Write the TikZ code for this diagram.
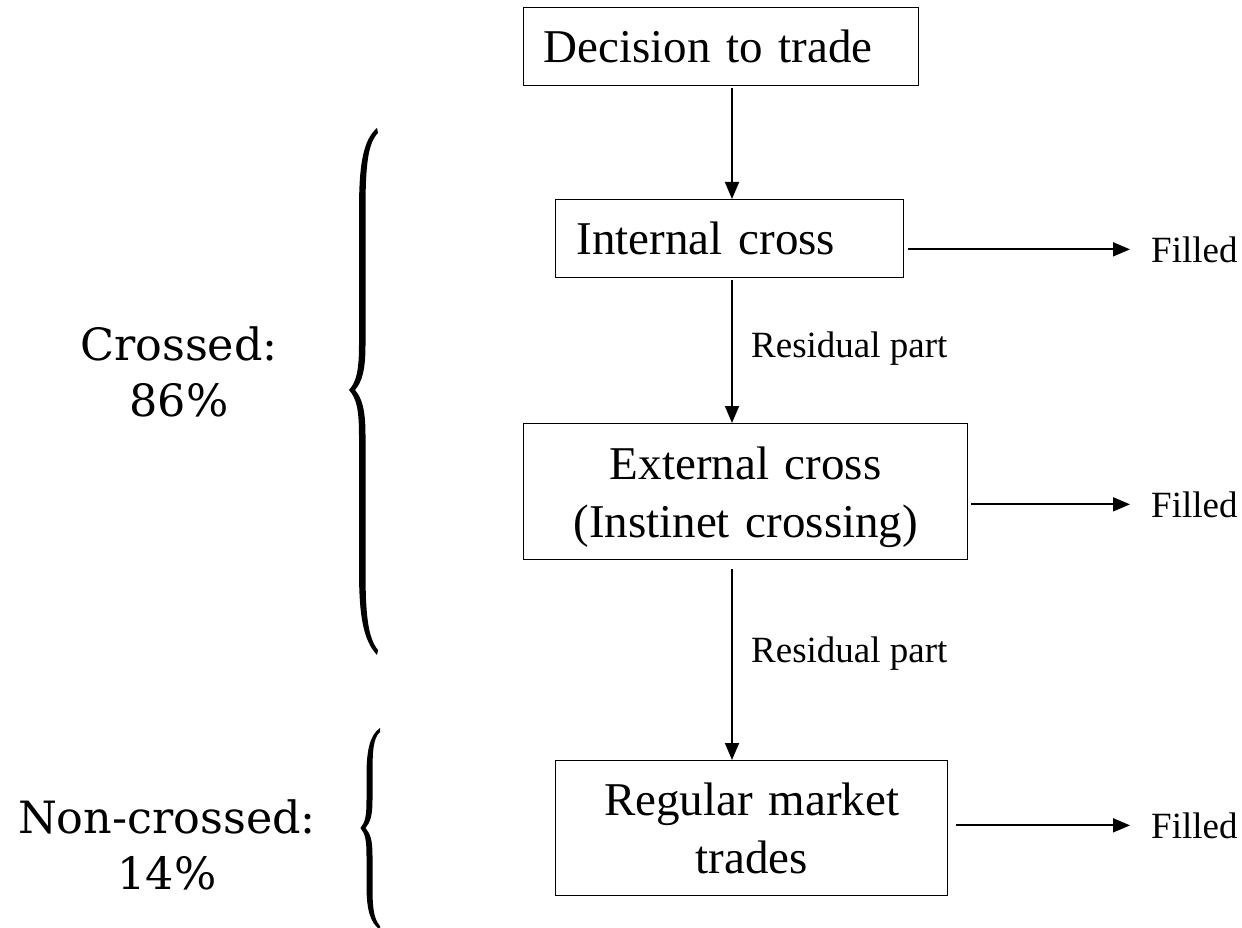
\documentclass[tikz,border=0pt]{standalone}
\usepackage{fontspec}
\setmainfont{Liberation Serif}
\newfontfamily\bookfont{DejaVu Serif}
\usetikzlibrary{arrows.meta}
\tikzset{
  box/.style={draw, line width=1.4pt, inner ysep=0pt, anchor=north west, font=\fontsize{47}{58}\selectfont},
  arr/.style={line width=1.8pt, -{Triangle[length=17pt,width=14pt]}},
  smalltext/.style={font=\fontsize{37}{44}\selectfont, inner sep=0pt, anchor=base west},
  sidetext/.style={font=\bookfont\fontsize{44.5}{56}\selectfont, align=center, inner sep=0pt},
  bracefill/.style={fill=black, draw=none}
}
\begin{document}
\begin{tikzpicture}[x=1pt,y=-1pt]
\useasboundingbox (0,0) rectangle (1242,928);

% boxes
\node[box, minimum width=395pt, minimum height=78pt, text width=355pt, align=left, inner xsep=20pt] (dec) at (523,7) {Decision to trade};
\node[box, minimum width=348pt, minimum height=78pt, text width=306pt, align=left, inner xsep=21pt] (ic) at (555,199) {Internal cross};
\node[box, minimum width=444pt, minimum height=136pt, text width=404pt, align=center, inner xsep=20pt, text depth=58pt] (ec) at (523,423) {External cross\\(Instinet crossing)};
\node[box, minimum width=392pt, minimum height=135pt, text width=352pt, align=center, inner xsep=20pt] (rm) at (555,760) {Regular market\\trades};

% labels
\node[smalltext] (r1) at (751,357) {Residual part};
\node[smalltext] (r2) at (751,662) {Residual part};
\node[smalltext] (f1) at (1151,262) {Filled};
\node[smalltext] (f2) at (1151,517) {Filled};
\node[smalltext] (f3) at (1151,838) {Filled};

% vertical connectors
\coordinate (ax) at (732,0);
\draw[arr, shorten <=2pt] (dec.south -| ax) -- (ic.north -| ax);
\draw[arr, shorten <=2pt] (ic.south -| ax) -- (ec.north -| ax);
\draw[arr, shorten <=9pt] (ec.south -| ax) -- (rm.north -| ax);

% horizontal connectors
\draw[arr, shorten <=4pt] (ic.east |- f1.west) -- ([xshift=-21pt]f1.west);
\draw[arr, shorten <=3pt] (ec.east |- f2.west) -- ([xshift=-21pt]f2.west);
\draw[arr, shorten <=8pt] (rm.east |- f3.west) -- ([xshift=-21pt]f3.west);

% side labels
\node[sidetext] (cr) at (179,372) {Crossed:\\86\%};
\node[sidetext] (nc) at (167,845) {Non-crossed:\\14\%};

% big brace
\path[bracefill] (377,128) .. controls (363,140) and (359,165) .. (359,210) -- (359,345)
  .. controls (359,372) and (356,382) .. (349,390) .. controls (356,398) and (359,408) .. (359,435)
  -- (359,570) .. controls (359,615) and (363,640) .. (377,655) -- (378,650)
  .. controls (368,638) and (365.5,615) .. (365.5,570) -- (365.5,435)
  .. controls (365.5,410) and (362,398) .. (355,390) .. controls (362,382) and (365.5,370) .. (365.5,345)
  -- (365.5,210) .. controls (365.5,165) and (368,143) .. (378,133) -- cycle;

% small brace
\path[bracefill] (380,728) .. controls (370,735) and (366.5,750) .. (366.5,775) -- (366.5,800)
  .. controls (366.5,815) and (365.5,822) .. (360.5,828) .. controls (365.5,834) and (366.5,841) .. (366.5,856)
  -- (366.5,885) .. controls (366.5,910) and (370,922) .. (380,930) -- (380,926)
  .. controls (373,918) and (372.5,905) .. (372.5,885) -- (372.5,856)
  .. controls (372.5,840) and (370.5,834) .. (365.5,828) .. controls (370.5,822) and (372.5,815) .. (372.5,800)
  -- (372.5,775) .. controls (372.5,752) and (373,738) .. (380,732) -- cycle;
\end{tikzpicture}
\end{document}
